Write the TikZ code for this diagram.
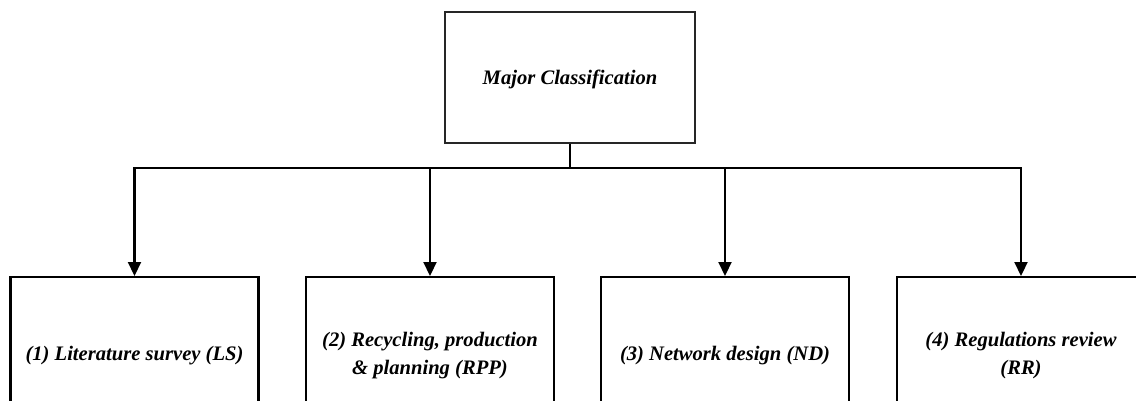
\documentclass[tikz,border=0pt]{standalone}
\usepackage{fontspec}
\setmainfont{Liberation Serif}
\usetikzlibrary{arrows.meta}
\begin{document}
\begin{tikzpicture}[x=1pt,y=-1pt,
  boxstyle/.style={draw=black,line width=2.2pt,minimum width=248pt,minimum height=160pt,anchor=north,inner sep=0pt},
  topbox/.style={draw=black!85,line width=1.9pt,minimum width=250pt,minimum height=131pt,inner sep=0pt},
  lbl/.style={font=\fontsize{20.6}{28}\selectfont\bfseries\itshape,align=center},
  conn/.style={line width=2.2pt},
  arr/.style={line width=2.2pt,-{Triangle[length=14pt,width=13pt]}}]
\useasboundingbox (0,0) rectangle (1136,401);
\clip (0,0) rectangle (1136,401);
\fill[white] (0,0) rectangle (1136,401);
\node[topbox] (top) at (570,77.5) {};
\node[lbl] (toplbl) at (570,79) {Major Classification};
\node[boxstyle] (b1) at (134.5,276) {};
\node[boxstyle] (b2) at (430,276) {};
\node[boxstyle] (b3) at (725,276) {};
\node[boxstyle] (b4) at (1021,276) {};
\node[lbl] (t1) at (134.5,356) {(1) Literature survey (LS)};
\node[lbl] (t2) at (430,356) {(2) Recycling, production\\\& planning (RPP)};
\node[lbl] (t3) at (725,356) {(3) Network design (ND)};
\node[lbl] (t4) at (1021,356) {(4) Regulations review\\(RR)};
\coordinate (hub) at (570,168);
\coordinate (hl) at (134.5,168);
\coordinate (h2) at (430,168);
\coordinate (h3) at (725,168);
\coordinate (hr) at (1021,168);
\draw[conn] (top.south) -- (hub);
\draw[conn,line cap=rect] (hl) -- (hr);
\draw[arr] (hl) -- (b1.north);
\draw[arr] (h2) -- (b2.north);
\draw[arr] (h3) -- (b3.north);
\draw[arr] (hr) -- (b4.north);
\end{tikzpicture}
\end{document}
